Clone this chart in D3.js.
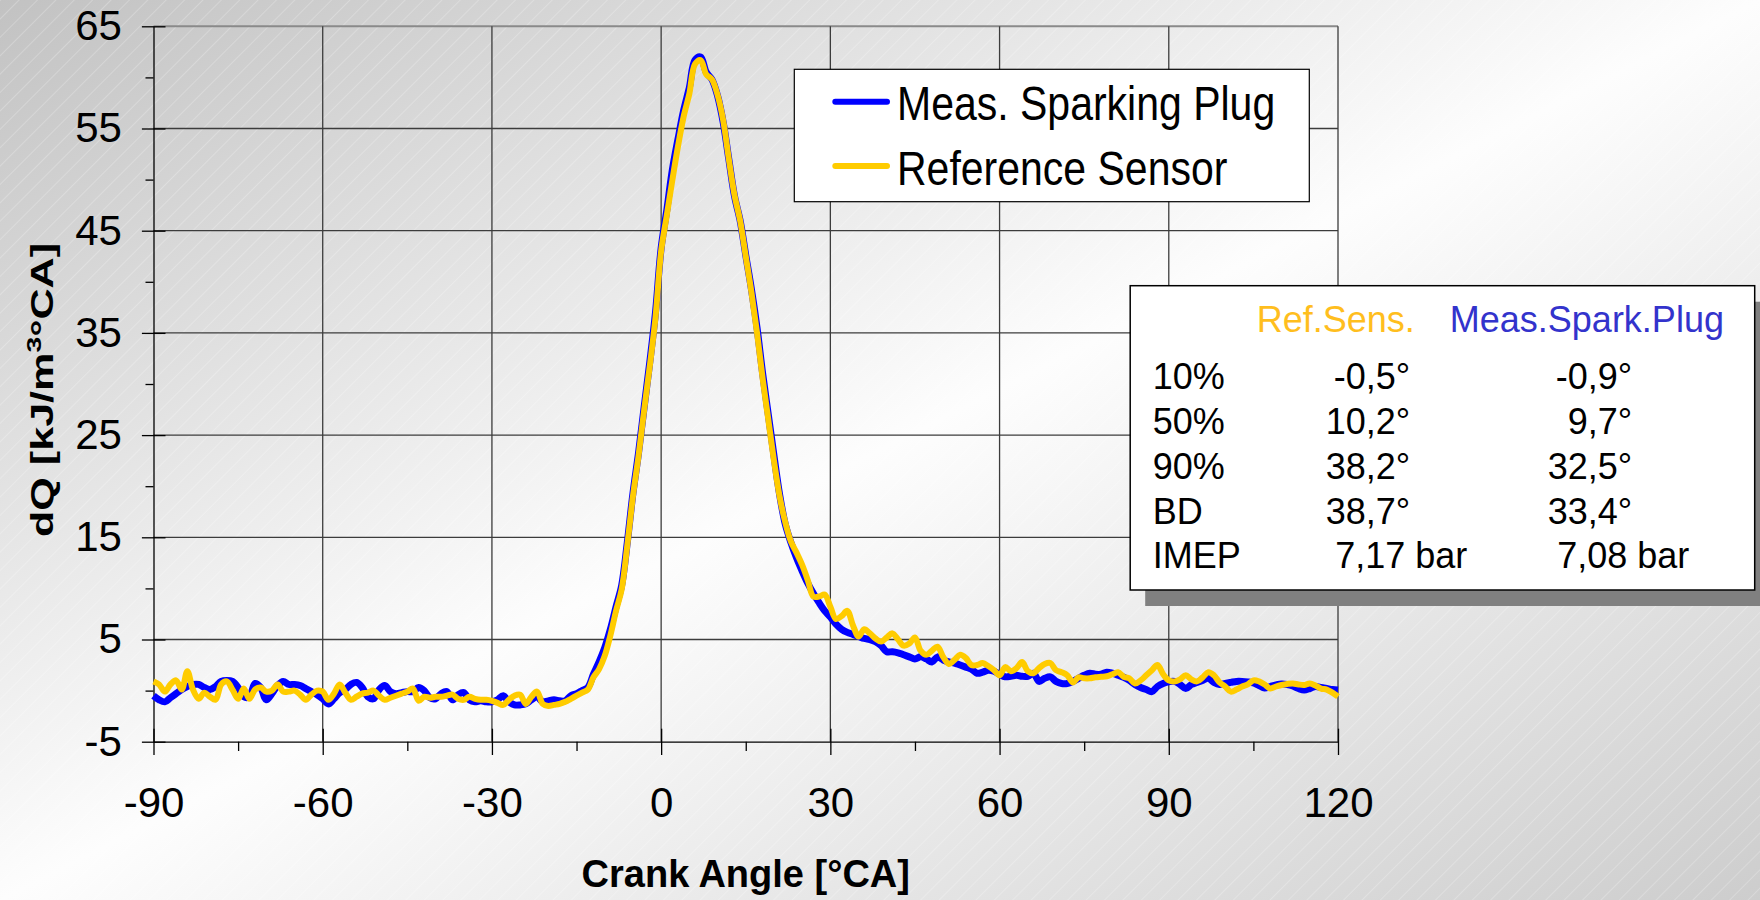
<!DOCTYPE html>
<html>
<head>
<meta charset="utf-8">
<script src="https://cdn.jsdelivr.net/npm/d3@7"></script>
<style>
    html, body { margin: 0; padding: 0; overflow: hidden; background: #fff; }
    svg { display: block; font-family: "Liberation Sans", Arial, sans-serif; }
</style>
</head>
<body>
<div id="chart"></div>
<script>
// Données : dQ en kJ/m3°CA, pas de 1°CA de -90 à 120
const angleStart = -90;
const angleEnd = 120;
const xTicks = [-90, -60, -30, 0, 30, 60, 90, 120];
const xMinorTicks = [-75, -45, -15, 15, 45, 75, 105];
const yTicks = [-5, 5, 15, 25, 35, 45, 55, 65];
const yMinorTicks = [0, 10, 20, 30, 40, 50, 60];

const measSparkPlug = [
    -0.5, -0.9, -1.1, -0.7, -0.3, 0.1, 0.4, 0.6, 0.6, 0.3,
    0.1, 0.4, 0.9, 1.0, 0.9, 0.3, -0.6, -0.6, 0.7, 0.3,
    -0.9, -0.3, 0.5, 0.9, 0.6, 0.6, 0.5, 0.2, -0.1, -0.4,
    -0.8, -1.3, -0.8, -0.2, 0.1, 0.6, 0.8, 0.3, -0.6, -0.8,
    0.1, 0.5, -0.1, -0.3, -0.2, -0.1, -0.1, 0.3, 0.0, -0.7,
    -0.8, -0.3, -0.1, -0.9, -0.4, -0.2, -0.9, -1.1, -1.0, -1.1,
    -1.1, -0.9, -0.5, -1.1, -1.4, -1.4, -1.3, -0.9, -0.6, -1.1,
    -1.0, -0.9, -1.0, -1.0, -0.5, -0.3, 0.0, 0.3, 1.6, 2.8,
    4.2, 6.0, 8.2, 10.3, 14.5, 19.3, 23.3, 27.8, 32.2, 37.0,
    43.3, 47.0, 51.0, 54.0, 56.8, 59.0, 61.7, 62.0, 60.5, 59.8,
    58.2, 55.6, 52.0, 48.4, 46.0, 42.6, 39.3, 35.5, 31.0, 27.0,
    23.0, 19.2, 16.3, 14.5, 13.0, 11.7, 10.5, 9.5, 8.6, 7.8,
    7.2, 6.5, 6.0, 5.7, 5.5, 5.3, 5.1, 5.0, 4.8, 4.4,
    3.8, 3.8, 3.7, 3.5, 3.3, 3.1, 3.3, 3.1, 2.8, 3.3,
    3.0, 2.8, 2.7, 2.5, 2.3, 2.1, 1.7, 1.8, 2.0, 1.9,
    1.6, 1.35, 1.4, 1.5, 1.4, 1.4, 1.7, 0.9, 1.2, 1.35,
    0.9, 0.7, 0.7, 0.9, 1.2, 1.5, 1.7, 1.6, 1.6, 1.8,
    1.7, 1.5, 1.3, 1.0, 0.6, 0.3, 0.1, -0.1, 0.4, 0.7,
    0.87, 0.9, 0.6, 0.2, 0.6, 0.8, 1.0, 1.2, 0.8, 0.6,
    0.7, 0.8, 0.9, 0.9, 0.85, 0.75, 0.5, 0.25, 0.4, 0.55,
    0.65, 0.6, 0.45, 0.2, 0.05, 0.2, 0.4, 0.3, 0.2, 0.1,
    0.05
];

const refSensor = [
    0.9, 0.6, -0.1, 0.6, 1.0, 0.1, 1.9, 0.1, -0.8, -0.2,
    -0.6, -0.9, 0.6, 0.9, 0.1, -0.8, 0.2, -0.8, 0.1, 0.3,
    -0.1, 0.0, 0.6, -0.1, -0.1, 0.0, -0.4, -0.9, -0.4, 0.0,
    -0.1, -0.9, -0.3, 0.6, -0.2, -0.9, -0.6, -0.3, -0.2, 0.0,
    -0.5, -0.9, -0.7, -0.5, -0.3, -0.1, 0.2, -1.0, -0.6, -0.7,
    -0.6, -0.6, -0.5, -0.4, -0.8, -0.9, -0.6, -0.8, -0.9, -0.9,
    -1.0, -1.2, -1.4, -0.9, -0.5, -0.4, -1.3, -0.6, -0.1, -1.3,
    -1.5, -1.4, -1.3, -1.1, -0.8, -0.5, -0.2, 0.1, 1.3, 2.1,
    3.4, 5.4, 7.8, 9.9, 14.2, 19.0, 23.0, 27.5, 31.8, 36.5,
    43.0, 46.5, 50.0, 53.3, 56.2, 58.4, 61.3, 61.7, 60.3, 59.8,
    58.3, 55.8, 52.0, 48.5, 46.0, 42.5, 39.0, 35.0, 30.5, 26.5,
    22.5, 19.0, 16.5, 14.6, 13.5, 12.3, 10.8, 9.2, 9.2, 9.4,
    8.2, 7.0, 7.3, 7.8, 6.4, 5.3, 6.0, 5.6, 5.1, 4.8,
    5.2, 5.6, 5.0, 4.4, 4.6, 5.2, 3.9, 3.5, 3.9, 4.3,
    3.3, 2.6, 3.0, 3.5, 3.2, 2.5, 2.5, 2.7, 2.4, 2.0,
    1.5, 2.3, 1.9, 2.2, 2.8, 1.9, 1.7, 2.2, 2.6, 2.7,
    2.0, 1.8, 1.5, 0.8, 1.3, 1.2, 1.2, 1.3, 1.35, 1.4,
    1.6, 1.8, 1.35, 1.2, 0.7, 1.0, 1.5, 2.0, 2.5, 1.6,
    1.0, 0.9, 1.1, 1.5, 1.1, 0.9, 1.3, 1.8, 1.5, 0.8,
    0.4, -0.1, 0.1, 0.4, 0.6, 1.0, 0.9, 0.6, 0.2, 0.4,
    0.55, 0.65, 0.7, 0.6, 0.55, 0.7, 0.5, 0.2, 0.1, -0.2,
    -0.6
];

const seriesNames = ["Meas. Sparking Plug", "Reference Sensor"];
const seriesColors = ["#0000ff", "#ffcc00"];

const tableHeader = ["Ref.Sens.", "Meas.Spark.Plug"];
const tableLabels = ["10%", "50%", "90%", "BD", "IMEP"];
const tableRef = ["-0,5°", "10,2°", "38,2°", "38,7°", "7,17 bar"];
const tableMeas = ["-0,9°", "9,7°", "32,5°", "33,4°", "7,08 bar"];

const angles = d3.range(angleStart, angleEnd + 1);

const width = 1760;
const height = 900;
const marginLeft = 153.5;
const marginRight = width - 1338;
const marginTop = 26.3;
const marginBottom = height - 741.7;

const x = d3.scaleLinear().domain([angleStart, angleEnd]).range([marginLeft, width - marginRight]);
const y = d3.scaleLinear().domain([-5, 65]).range([height - marginBottom, marginTop]);

const svg = d3.select("#chart")
    .append("svg")
    .attr("width", width)
    .attr("height", height);

// fond dégradé + hachures
const defs = svg.append("defs");
const grad = defs.append("linearGradient")
    .attr("id", "bg")
    .attr("x1", 0).attr("y1", 0).attr("x2", 1).attr("y2", 1);
grad.append("stop").attr("offset", "0%").attr("stop-color", "#c2c2c2");
grad.append("stop").attr("offset", "50%").attr("stop-color", "#fdfdfd");
grad.append("stop").attr("offset", "100%").attr("stop-color", "#cdcdcd");

const pat = defs.append("pattern")
    .attr("id", "stripes")
    .attr("width", 13).attr("height", 13)
    .attr("patternUnits", "userSpaceOnUse")
    .attr("patternTransform", "rotate(45)");
pat.append("line")
    .attr("x1", 0).attr("y1", 0).attr("x2", 0).attr("y2", 13)
    .attr("stroke", "#ffffff").attr("stroke-width", 1).attr("opacity", 0.45);

svg.append("rect").attr("width", width).attr("height", height).attr("fill", "url(#bg)");
svg.append("rect").attr("width", width).attr("height", height).attr("fill", "url(#stripes)");

// grille
svg.append("g")
    .selectAll("line")
    .data(yTicks.filter(d => d > -5))
    .join("line")
    .attr("x1", marginLeft).attr("x2", width - marginRight)
    .attr("y1", d => y(d)).attr("y2", d => y(d))
    .attr("stroke", d => d === 65 ? "#8a8a8a" : "#3c3c3c")
    .attr("stroke-width", d => d === 65 ? 2 : 1.3);

svg.append("g")
    .selectAll("line")
    .data(xTicks.filter(d => d > angleStart))
    .join("line")
    .attr("x1", d => x(d)).attr("x2", d => x(d))
    .attr("y1", marginTop).attr("y2", height - marginBottom)
    .attr("stroke", "#3c3c3c")
    .attr("stroke-width", 1.3);

// axes
const yAxis = svg.append("g")
    .attr("transform", `translate(${marginLeft},0)`)
    .call(d3.axisLeft(y).tickValues(yTicks).tickSize(11.6).tickSizeOuter(0).tickPadding(20)
        .tickFormat(d => String(d)));
yAxis.selectAll(".tick line").attr("x1", 12);
svg.append("g")
    .attr("transform", `translate(${marginLeft},0)`)
    .call(d3.axisLeft(y).tickValues(yMinorTicks).tickSize(8).tickFormat(""))
    .call(g => g.select(".domain").remove());

const xAxis = svg.append("g")
    .attr("transform", `translate(0,${height - marginBottom})`)
    .call(d3.axisBottom(x).tickValues(xTicks).tickSize(13.3).tickSizeOuter(0).tickPadding(32)
        .tickFormat(d => String(d)));
xAxis.selectAll(".tick line").attr("y1", -13);
svg.append("g")
    .attr("transform", `translate(0,${height - marginBottom})`)
    .call(d3.axisBottom(x).tickValues(xMinorTicks).tickSize(9.3).tickFormat(""))
    .call(g => g.select(".domain").remove());

svg.selectAll(".domain, .tick line").attr("stroke", "#000").attr("stroke-width", 1.3);
svg.selectAll(".tick text")
    .attr("font-family", "Liberation Sans, Arial, sans-serif")
    .attr("font-size", 42)
    .attr("fill", "#000");

// titres des axes
svg.append("text")
    .attr("x", (marginLeft + width - marginRight) / 2)
    .attr("y", 887)
    .attr("text-anchor", "middle")
    .attr("font-size", 38)
    .attr("font-weight", "bold")
    .text("Crank Angle [°CA]");

const yTitle = svg.append("text")
    .attr("transform", `translate(53,390) rotate(-90)`)
    .attr("text-anchor", "middle")
    .attr("font-size", 32)
    .attr("font-weight", "bold")
    .attr("textLength", 294)
    .attr("lengthAdjust", "spacingAndGlyphs");
yTitle.append("tspan").text("dQ [kJ/m");
yTitle.append("tspan").attr("font-size", 21).attr("dy", -12).text("3");
yTitle.append("tspan").attr("dy", 12).text("°CA]");

// courbes
const line = d3.line()
    .x((d, i) => x(angles[i]))
    .y(d => y(d))
    .curve(d3.curveCatmullRom.alpha(0.5));

svg.append("path")
    .datum(measSparkPlug)
    .attr("d", line)
    .attr("fill", "none")
    .attr("stroke", seriesColors[0])
    .attr("stroke-width", 7)
    .attr("stroke-linejoin", "round");

svg.append("path")
    .datum(refSensor)
    .attr("d", line)
    .attr("fill", "none")
    .attr("stroke", seriesColors[1])
    .attr("stroke-width", 6)
    .attr("stroke-linejoin", "round");

// légende
const legend = svg.append("g").attr("transform", "translate(794.3,69.3)");
legend.append("rect")
    .attr("width", 515).attr("height", 132.4)
    .attr("fill", "#fff").attr("stroke", "#000").attr("stroke-width", 1.2);
seriesNames.forEach((name, i) => {
    const ly = 32.4 + i * 64.3;
    legend.append("line")
        .attr("x1", 41).attr("x2", 92.7)
        .attr("y1", ly).attr("y2", ly)
        .attr("stroke", seriesColors[i])
        .attr("stroke-width", 6)
        .attr("stroke-linecap", "round");
    legend.append("text")
        .attr("transform", `translate(102.7,${ly + 18.5}) scale(1,1.18)`)
        .attr("font-size", 41)
        .text(name);
});

// tableau des résultats
const table = svg.append("g").attr("transform", "translate(1130.2,285.7)");
const tw = 624.5, th = 304.3;
table.append("rect")
    .attr("x", 15).attr("y", 16)
    .attr("width", tw).attr("height", th)
    .attr("fill", "#808080");
table.append("rect")
    .attr("width", tw).attr("height", th)
    .attr("fill", "#fff").attr("stroke", "#000").attr("stroke-width", 1.5);

table.append("text")
    .attr("x", 126.5).attr("y", 46.5)
    .attr("font-size", 36).attr("fill", "#ffbe1e")
    .text(tableHeader[0]);
table.append("text")
    .attr("x", 319.6).attr("y", 46.5)
    .attr("font-size", 36).attr("fill", "#3333cc")
    .text(tableHeader[1]);

const colRight = [280, 502];
tableLabels.forEach((lab, i) => {
    const ty = 103.6 + i * 44.8;
    table.append("text")
        .attr("x", 22.5).attr("y", ty)
        .attr("font-size", 36)
        .text(lab);
    [tableRef[i], tableMeas[i]].forEach((v, j) => {
        const isBar = v.endsWith("bar");
        table.append("text")
            .attr("x", isBar ? colRight[j] - 75 : colRight[j])
            .attr("y", ty)
            .attr("text-anchor", isBar ? "start" : "end")
            .attr("font-size", 36)
            .text(v);
    });
});
</script>
</body>
</html>
